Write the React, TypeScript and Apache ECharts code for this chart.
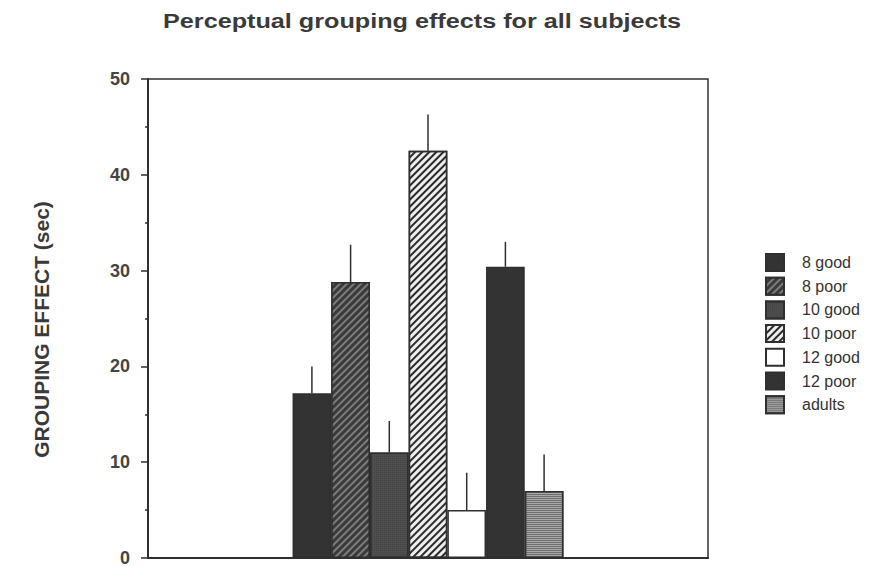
import React, { useEffect, useRef } from "react";
import * as echarts from "echarts";

const seriesNames = ["8 good", "8 poor", "10 good", "10 poor", "12 good", "12 poor", "adults"];
const meanValues = [17.2, 28.8, 11.0, 42.5, 5.0, 30.4, 7.0];
const errorTops = [20.0, 32.7, 14.3, 46.3, 8.9, 33.0, 10.8];
const yTicks = [0, 10, 20, 30, 40, 50];

const BAR_W = 38.7;
const INK = "#2f2f2f";
const FONT = "'Liberation Sans', Arial, sans-serif";

const styles: any[] = [
  { color: "#333333" },
  { color: "#3a3a3a", decal: { symbol: "rect", symbolSize: 1, color: "rgba(140,140,140,0.8)", dashArrayX: [1, 0], dashArrayY: [1.5, 2.5], rotation: -Math.PI / 4 } },
  { color: "#4e4e4e", decal: { symbol: "rect", symbolSize: 1, color: "rgba(20,20,20,0.18)", dashArrayX: [1, 1], dashArrayY: [1, 1], rotation: 0 } },
  { color: "#eeeeee", decal: { symbol: "rect", symbolSize: 1, color: "#2a2a2a", dashArrayX: [1, 0], dashArrayY: [2, 2.3], rotation: -Math.PI / 4 } },
  { color: "#ffffff" },
  { color: "#333333" },
  { color: "#a8a8a8", decal: { symbol: "rect", symbolSize: 1, color: "#6e6e6e", dashArrayX: [1, 0], dashArrayY: [1, 1], rotation: 0 } },
];

export default function App() {
  const ref = useRef<HTMLDivElement>(null);
  useEffect(() => {
    if (!ref.current) return;
    const chart = echarts.init(ref.current, undefined, { renderer: "svg" });
    const n = seriesNames.length;
    const barSeries = seriesNames.map((name, i) => ({
      name,
      type: "bar",
      data: [meanValues[i]],
      barWidth: BAR_W,
      barGap: "0%",
      itemStyle: { ...styles[i], borderColor: INK, borderWidth: 1.5 },
      emphasis: { disabled: true },
    }));
    const errSeries = {
      type: "custom",
      name: "err",
      silent: true,
      z: 1,
      data: meanValues.map((v, i) => [0, v, errorTops[i], i]),
      renderItem: (params: any, api: any) => {
        const idx = api.value(3);
        const p = api.coord([0, api.value(1)]);
        const q = api.coord([0, api.value(2)]);
        const x = p[0] + (idx - (n - 1) / 2) * BAR_W;
        return {
          type: "line",
          shape: { x1: x, y1: p[1], x2: x, y2: q[1] },
          style: { stroke: INK, lineWidth: 1.5 },
        };
      },
    };
    chart.setOption({
      animation: false,
      backgroundColor: "#ffffff",
      graphic: [
        {
          type: "text",
          x: 422,
          y: 21,
          scaleX: 1.2,
          style: {
            text: "Perceptual grouping effects for all subjects",
            font: "bold 21px " + FONT,
            fill: "#3a3a3a",
            textAlign: "center",
            textVerticalAlign: "middle",
          },
        },
      ],
      grid: {
        left: 148,
        right: 165,
        top: 79,
        bottom: 6,
        show: true,
        borderColor: INK,
        borderWidth: 1.5,
        backgroundColor: "transparent",
      },
      legend: {
        orient: "vertical",
        left: 760,
        top: 248,
        icon: "rect",
        itemWidth: 18,
        itemHeight: 17,
        itemGap: 4.7,
        data: seriesNames,
        textStyle: { fontSize: 16, color: "#333", fontFamily: FONT, padding: [0, 0, 0, 13] },
      },
      xAxis: {
        type: "category",
        data: [""],
        axisLabel: { show: false },
        axisTick: { show: false },
        axisLine: { lineStyle: { color: INK, width: 2 } },
      },
      yAxis: {
        type: "value",
        min: yTicks[0],
        max: yTicks[yTicks.length - 1],
        interval: 10,
        name: "GROUPING EFFECT (sec)",
        nameLocation: "middle",
        nameGap: 96,
        nameTextStyle: { fontSize: 21, fontWeight: "bold", color: "#3a3a3a", fontFamily: FONT, padding: [0, 22, 0, 0] },
        splitLine: { show: false },
        axisLine: { show: true, lineStyle: { color: INK, width: 2 } },
        axisTick: { show: true, length: 7, lineStyle: { color: INK, width: 1.5 } },
        minorTick: { show: true, splitNumber: 2, length: 3, lineStyle: { color: INK, width: 1.5 } },
        axisLabel: { fontSize: 18, fontWeight: "bold", color: "#444", margin: 18, fontFamily: FONT },
      },
      series: [...barSeries, errSeries],
    });
    return () => chart.dispose();
  }, []);
  return <div ref={ref} style={{ width: 873, height: 567, position: "absolute", left: 0, top: 0 }} />;
}
